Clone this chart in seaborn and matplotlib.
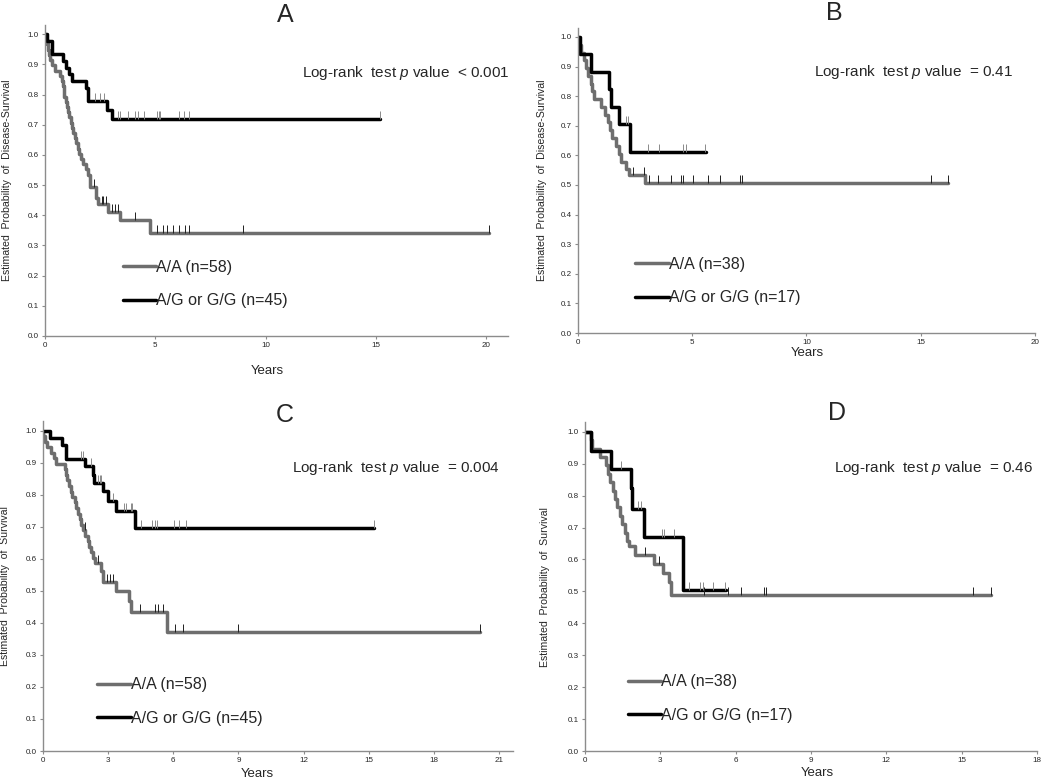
import numpy as np
import matplotlib
matplotlib.use('Agg')
import matplotlib.pyplot as plt
from matplotlib.path import Path
import pandas as pd
import seaborn as sns

sns.set_theme(style='ticks')
plt.rcParams['font.family'] = ['Liberation Sans', 'DejaVu Sans']
plt.rcParams['mathtext.fontset'] = 'custom'
plt.rcParams['mathtext.it'] = 'Liberation Sans:italic'
plt.rcParams['mathtext.rm'] = 'Liberation Sans'

GRAY = '#6e6e6e'
BLACK = '#000000'
AXC = '#8c8c8c'

# A: disease-free survival, A/A (n=58) vs A/G or G/G (n=45)
a_aa_t = [0, 0.04, 0.08, 0.12, 0.16, 0.22, 0.3, 0.45, 0.68, 0.76, 0.8, 0.84, 0.88, 0.93, 0.98, 1.04, 1.1,
          1.16, 1.22, 1.28, 1.34, 1.4, 1.48, 1.56, 1.64, 1.72, 1.86, 1.96, 2.04, 2.31, 2.38, 2.86, 3.38, 4.78]
a_aa_s = [1.0, 0.983, 0.966, 0.948, 0.931, 0.914, 0.897, 0.879, 0.862, 0.845, 0.828, 0.810, 0.793, 0.776,
          0.759, 0.741, 0.724, 0.707, 0.690, 0.672, 0.655, 0.638, 0.621, 0.603, 0.586, 0.569, 0.552, 0.534,
          0.495, 0.458, 0.437, 0.411, 0.384, 0.342]
a_aa_end = 20.15
a_aa_cens = [2.2, 2.57, 2.64, 2.78, 3.02, 3.17, 3.3, 4.08, 5.06, 5.33, 5.54, 5.81, 6.07, 6.34, 6.54, 8.98, 20.12]

a_ag_t = [0, 0.08, 0.3, 0.8, 0.95, 1.1, 1.2, 1.85, 1.97, 2.8, 3.02]
a_ag_s = [1.0, 0.978, 0.933, 0.911, 0.889, 0.867, 0.844, 0.822, 0.778, 0.750, 0.720]
a_ag_end = 15.2
a_ag_cens = [2.28, 2.5, 2.66, 3.3, 3.41, 3.76, 4.06, 4.2, 4.47, 5.07, 5.15, 5.22, 6.07, 6.3, 6.54, 15.2]

# B: disease-free survival, A/A (n=38) vs A/G or G/G (n=17)
b_aa_t = [0, 0.05, 0.15, 0.25, 0.35, 0.45, 0.55, 0.62, 0.68, 1.02, 1.2, 1.3, 1.4, 1.5, 1.68, 1.78, 1.9,
          2.09, 2.23, 2.93]
b_aa_s = [1.0, 0.974, 0.947, 0.921, 0.895, 0.868, 0.842, 0.816, 0.789, 0.763, 0.737, 0.711, 0.684, 0.658,
          0.632, 0.605, 0.579, 0.553, 0.533, 0.505]
b_aa_end = 16.18
b_aa_cens = [2.41, 2.89, 3.11, 3.5, 4.09, 4.53, 4.6, 5.04, 5.69, 6.2, 7.08, 7.2, 15.47, 16.18]

b_ag_t = [0, 0.1, 0.55, 1.36, 1.46, 1.78, 2.26]
b_ag_s = [1.0, 0.941, 0.882, 0.824, 0.765, 0.706, 0.610]
b_ag_end = 5.62
b_ag_cens = [2.12, 2.19, 3.07, 3.55, 4.6, 4.74, 5.58]

# C: overall survival, A/A (n=58) vs A/G or G/G (n=45)
c_aa_t = [0, 0.02, 0.08, 0.2, 0.35, 0.5, 0.6, 1.0, 1.05, 1.1, 1.2, 1.28, 1.35, 1.45, 1.52, 1.6, 1.68,
          1.75, 1.85, 1.95, 2.05, 2.12, 2.2, 2.3, 2.4, 2.68, 2.77, 3.38, 3.98, 4.07, 5.69]
c_aa_s = [1.0, 0.983, 0.966, 0.948, 0.931, 0.914, 0.897, 0.879, 0.862, 0.845, 0.828, 0.810, 0.793, 0.776,
          0.759, 0.741, 0.724, 0.707, 0.690, 0.672, 0.655, 0.638, 0.621, 0.603, 0.586, 0.563, 0.526, 0.500,
          0.469, 0.433, 0.371]
c_aa_end = 20.12
c_aa_cens = [1.92, 2.53, 2.95, 3.07, 3.23, 4.46, 5.15, 5.3, 5.53, 6.07, 6.45, 9.0, 20.12]

c_ag_t = [0, 0.31, 0.85, 1.08, 1.92, 2.28, 2.35, 2.77, 3.0, 3.38, 4.22]
c_ag_s = [1.0, 0.978, 0.956, 0.911, 0.889, 0.863, 0.837, 0.811, 0.780, 0.748, 0.695]
c_ag_end = 15.25
c_ag_cens = [1.77, 1.84, 2.2, 2.53, 2.61, 2.69, 3.23, 3.72, 3.8, 4.03, 4.12, 4.49, 5.04, 5.15, 5.25,
             6.02, 6.27, 6.58, 15.25]

# D: overall survival, A/A (n=38) vs A/G or G/G (n=17)
d_aa_t = [0, 0.25, 0.3, 0.6, 0.85, 0.92, 1.0, 1.12, 1.2, 1.3, 1.38, 1.48, 1.58, 1.68, 1.77, 2.0, 2.75,
          3.12, 3.35, 3.45]
d_aa_s = [1.0, 0.974, 0.947, 0.921, 0.895, 0.868, 0.842, 0.816, 0.789, 0.763, 0.737, 0.711, 0.684, 0.658,
          0.641, 0.614, 0.586, 0.558, 0.530, 0.490]
d_aa_end = 16.17
d_aa_cens = [2.4, 2.95, 4.75, 5.71, 6.21, 7.14, 7.22, 15.47, 16.17]

d_ag_t = [0, 0.23, 1.06, 1.83, 1.89, 2.35, 3.92]
d_ag_s = [1.0, 0.941, 0.882, 0.824, 0.758, 0.671, 0.503]
d_ag_end = 5.64
d_ag_cens = [1.43, 2.12, 2.22, 3.09, 3.16, 3.55, 4.13, 4.59, 4.69, 5.09, 5.6]

panels = [
    dict(name='A', curves=[(a_aa_t, a_aa_s, a_aa_end, a_aa_cens), (a_ag_t, a_ag_s, a_ag_end, a_ag_cens)],
         n=(58, 45), p='< 0.001', ylabel='Estimated  Probability  of  Disease-Survival',
         rect=[0.0429, 0.5698, 0.441, 0.398], xmax=21, xticks=np.arange(0, 21, 5),
         title_xy=(0.518, 1.032), p_xy=(1.004, 0.846), leg_xy=(0.168, 0.167),
         ylab_x=-0.071, xlab_xy=(0.48, -0.093)),
    dict(name='B', curves=[(b_aa_t, b_aa_s, b_aa_end, b_aa_cens), (b_ag_t, b_ag_s, b_ag_end, b_ag_cens)],
         n=(38, 17), p='= 0.41', ylabel='Estimated  Probability  of  Disease-Survival',
         rect=[0.5505, 0.5736, 0.435, 0.3905], xmax=20, xticks=np.arange(0, 21, 5),
         title_xy=(0.562, 1.05), p_xy=(0.952, 0.856), leg_xy=(0.125, 0.17),
         ylab_x=-0.068, xlab_xy=(0.503, -0.047)),
    dict(name='C', curves=[(c_aa_t, c_aa_s, c_aa_end, c_aa_cens), (c_ag_t, c_ag_s, c_ag_end, c_ag_cens)],
         n=(58, 45), p='= 0.004', ylabel='Estimated  Probability  of  Survival',
         rect=[0.041, 0.0384, 0.4476, 0.4225], xmax=21.65, xticks=np.arange(0, 22, 3),
         title_xy=(0.515, 1.018), p_xy=(0.972, 0.858), leg_xy=(0.115, 0.15),
         ylab_x=-0.070, xlab_xy=(0.455, -0.05)),
    dict(name='D', curves=[(d_aa_t, d_aa_s, d_aa_end, d_aa_cens), (d_ag_t, d_ag_s, d_ag_end, d_ag_cens)],
         n=(38, 17), p='= 0.46', ylabel='Estimated  Probability  of  Survival',
         rect=[0.557, 0.0384, 0.4305, 0.421], xmax=18, xticks=np.arange(0, 19, 3),
         title_xy=(0.557, 1.027), p_xy=(0.991, 0.86), leg_xy=(0.095, 0.16),
         ylab_x=-0.077, xlab_xy=(0.515, -0.05)),
]

# tick mark that rises from the curve
TICK = Path([(0, 0), (0, 1)])

fig = plt.figure(figsize=(10.5, 7.81), dpi=100)

for pan in panels:
    ax = fig.add_axes(pan['rect'])
    handles = []
    for (t, s, end, cens), col, tcol in zip(pan['curves'], [GRAY, BLACK], ['#202020', '#8a8a8a']):
        x = list(t) + [end]
        y = list(s) + [s[-1]]
        df = pd.DataFrame({'Years': x, 'S': y})
        sns.lineplot(data=df, x='Years', y='S', estimator=None, drawstyle='steps-post',
                     color=col, lw=2.5, ax=ax, zorder=2)
        handles.append(ax.lines[-1])
        idx = np.searchsorted(np.array(x), np.array(cens), side='right') - 1
        cy = np.array(y)[idx]
        sns.scatterplot(x=cens, y=cy, marker=TICK, s=120, color=tcol, edgecolor=tcol,
                        linewidth=0.7, ax=ax, zorder=3)

    ax.set_xlim(0, pan['xmax'])
    ax.set_ylim(0, 1.03)
    ax.set_xticks(pan['xticks'])
    ax.set_yticks(np.arange(0, 1.01, 0.1))
    ax.set_yticklabels([f'{v:.1f}' for v in np.arange(0, 1.01, 0.1)])
    ax.tick_params(labelsize=5.8, length=2.5, width=0.8, color=AXC, pad=2)
    sns.despine(ax=ax)
    for sp in ['left', 'bottom']:
        ax.spines[sp].set_color(AXC)
        ax.spines[sp].set_linewidth(1.0)

    ax.set_ylabel(pan['ylabel'], fontsize=7.6)
    ax.yaxis.set_label_coords(pan['ylab_x'], 0.5)
    ax.set_xlabel('Years', fontsize=9.5)
    ax.xaxis.set_label_coords(*pan['xlab_xy'])

    ax.text(*pan['title_xy'], pan['name'], transform=ax.transAxes, ha='center', va='center', fontsize=18)
    ax.text(*pan['p_xy'], 'Log-rank  test $\\it{p}$ value  ' + pan['p'], transform=ax.transAxes,
            ha='right', va='center', fontsize=11)

    ax.legend(handles=handles, labels=[f'A/A (n={pan["n"][0]})', f'A/G or G/G (n={pan["n"][1]})'],
              loc='center left', bbox_to_anchor=pan['leg_xy'], frameon=False, fontsize=11.5,
              handlelength=2.1, handletextpad=0.0, labelspacing=1.15, borderpad=0, borderaxespad=0)

fig.savefig('out.png', dpi=100)
